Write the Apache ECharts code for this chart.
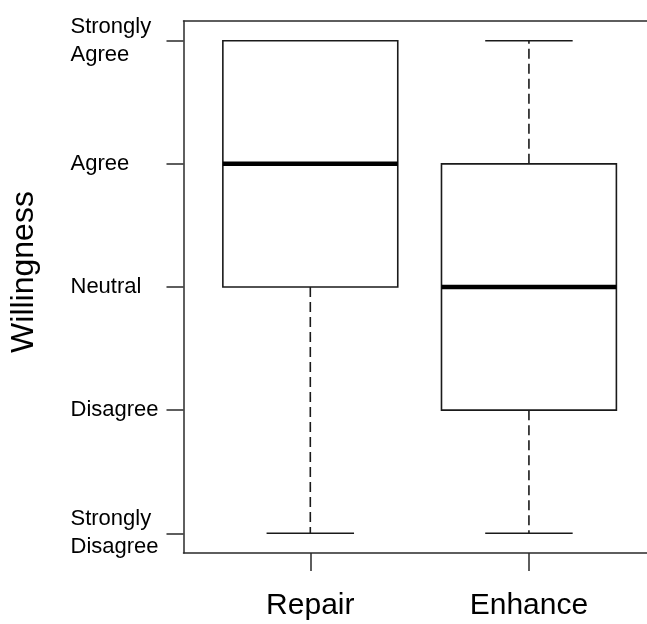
<!DOCTYPE html>
<html>
<head>
<meta charset="utf-8">
<script src="https://cdn.jsdelivr.net/npm/echarts@6/dist/echarts.min.js"></script>
<style>
  html, body { margin: 0; padding: 0; background: #fff; }
  #chart { width: 647px; height: 624px; }
</style>
</head>
<body>
<div id="chart"></div>
<script>
// groups and their five-number summaries (1 = Strongly Disagree ... 5 = Strongly Agree)
var categories = ['Repair', 'Enhance'];
var positions = [1, 2];
var lowWhisker = [1, 1];
var lowerQuart = [3, 2];
var medians = [4, 3];
var upperQuart = [5, 4];
var highWhisker = [5, 5];

var yTicks = [1, 2, 3, 4, 5];
var yLabels = ['Strongly\nDisagree', 'Disagree', 'Neutral', 'Agree', 'Strongly\nAgree'];

var font = 'Liberation Sans, Arial, sans-serif';
var frame = { color: '#2a2a2a', width: 1.5 };

var boxData = positions.map(function (p, i) {
	return [p, lowWhisker[i], lowerQuart[i], medians[i], upperQuart[i], highWhisker[i]];
});

function renderBox(params, api) {
	var x = api.value(0);
	var halfW = api.size([0.4, 0])[0];
	var capW = halfW / 2;
	var pLow = api.coord([x, api.value(1)]);
	var pQ1 = api.coord([x, api.value(2)]);
	var pMed = api.coord([x, api.value(3)]);
	var pQ3 = api.coord([x, api.value(4)]);
	var pHigh = api.coord([x, api.value(5)]);
	var cx = pMed[0];
	var edge = { stroke: '#1a1a1a', lineWidth: 1.6, fill: null };
	var dash = { stroke: '#1a1a1a', lineWidth: 1.6, lineDash: [10, 5] };
	var kids = [];
	//whiskers
	if (pLow[1] !== pQ1[1]) {
		kids.push({ type: 'line', shape: { x1: cx, y1: pQ1[1], x2: cx, y2: pLow[1] }, style: dash });
	}
	if (pHigh[1] !== pQ3[1]) {
		kids.push({ type: 'line', shape: { x1: cx, y1: pQ3[1], x2: cx, y2: pHigh[1] }, style: dash });
	}
	//caps
	kids.push({ type: 'line', shape: { x1: cx - capW, y1: pLow[1], x2: cx + capW, y2: pLow[1] }, style: edge });
	kids.push({ type: 'line', shape: { x1: cx - capW, y1: pHigh[1], x2: cx + capW, y2: pHigh[1] }, style: edge });
	//box
	kids.push({
		type: 'rect',
		shape: { x: cx - halfW, y: pQ3[1], width: halfW * 2, height: pQ1[1] - pQ3[1] },
		style: { stroke: '#1a1a1a', lineWidth: 1.6, fill: '#fff' }
	});
	//median
	kids.push({ type: 'line', shape: { x1: cx - halfW, y1: pMed[1], x2: cx + halfW, y2: pMed[1] }, style: { stroke: '#000', lineWidth: 4.5 } });
	return { type: 'group', children: kids };
}

var chart = echarts.init(document.getElementById('chart'));
chart.setOption({
	animation: false,
	backgroundColor: '#fff',
	grid: { left: 183.5, top: 21, bottom: 71, right: 0 },
	xAxis: [{
		type: 'value', min: 0.42, max: 2.54,
		axisLine: { show: true, onZero: false, lineStyle: frame },
		splitLine: { show: false },
		axisTick: { show: true, customValues: positions, length: 18, lineStyle: frame },
		axisLabel: {
			customValues: positions, margin: 38,
			fontFamily: font, fontSize: 30, color: '#000',
			formatter: function (v) { return categories[positions.indexOf(v)]; }
		}
	}, {
		//top edge of the frame
		type: 'value', position: 'top', min: 0.42, max: 2.54,
		axisLine: { show: true, onZero: false, lineStyle: frame },
		axisTick: { show: false }, axisLabel: { show: false }, splitLine: { show: false }
	}],
	yAxis: {
		type: 'value', min: 0.84, max: 5.16,
		axisLine: { show: true, onZero: false, lineStyle: frame },
		splitLine: { show: false },
		axisTick: { show: true, customValues: yTicks, length: 17, lineStyle: frame },
		axisLabel: {
			customValues: yTicks, margin: 113, align: 'left',
			fontFamily: font, fontSize: 22, lineHeight: 28, color: '#000',
			formatter: function (v) { return yLabels[yTicks.indexOf(v)]; }
		}
	},
	graphic: [{
		type: 'text', x: 24, y: 272, rotation: Math.PI / 2,
		style: { text: 'Willingness', font: '32px ' + font, fill: '#000', textAlign: 'center', textVerticalAlign: 'middle' }
	}],
	series: [{
		type: 'custom',
		renderItem: renderBox,
		data: boxData,
		encode: { x: 0, y: [1, 2, 3, 4, 5] },
		clip: false
	}]
});
</script>
</body>
</html>
